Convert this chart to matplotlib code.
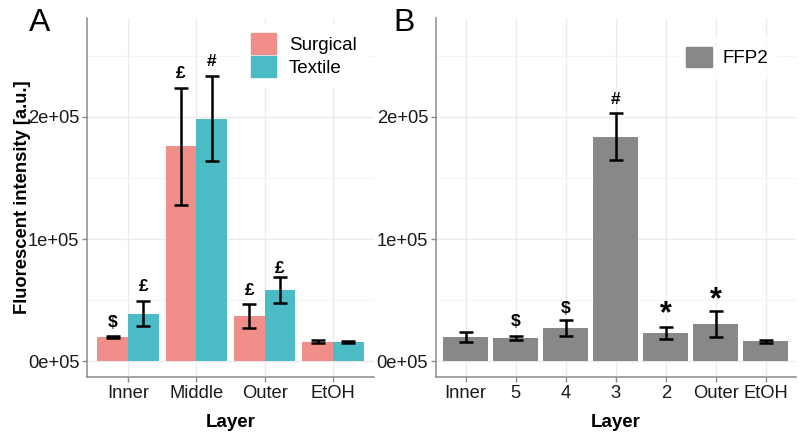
import matplotlib
matplotlib.use("Agg")
import matplotlib.pyplot as plt
import numpy as np
from matplotlib.patches import Patch

plt.rcParams['font.family'] = ['Liberation Sans', 'DejaVu Sans']

# ---- Data panel A ----
layers_a = ["Inner", "Middle", "Outer", "EtOH"]
surgical = [20000, 176000, 37000, 16000]
surgical_err = [800, 48000, 10000, 1500]
textile = [38800, 198600, 58200, 15600]
textile_err = [10200, 35000, 10600, 900]
surg_labels = ["$", "£", "£", ""]
text_labels = ["£", "#", "£", ""]
surg_label_y = [31400, 235200, 58200, 0]
text_label_y = [60900, 245300, 76000, 0]

# ---- Data panel B ----
layers_b = ["Inner", "5", "4", "3", "2", "Outer", "EtOH"]
ffp2 = [19700, 18900, 27000, 183800, 23000, 30300, 16100]
ffp2_err = [4200, 1800, 6300, 19000, 4700, 10700, 1600]
ffp2_labels = ["", "$", "$", "#", "*", "*", ""]
ffp2_label_y = [0, 32500, 43400, 214200, 38500, 50000, 0]

c_surg = "#F08E89"
c_text = "#4BBCC6"
c_ffp2 = "#888888"
axis_col = "#8a8a8a"
grid_major = "#EBEBEB"
grid_minor = "#F4F4F4"

W, H = 799, 432
fig = plt.figure(figsize=(W / 100, H / 100), dpi=100)

def style(ax, n):
    ax.set_xlim(0.4, n + 0.6)
    ax.set_ylim(-13000, 281000)
    ax.set_yticks([0, 100000, 200000])
    ax.set_yticklabels(["0e+05", "1e+05", "2e+05"])
    ax.set_yticks([50000, 150000, 250000], minor=True)
    ax.set_xticks(np.arange(1, n + 1))
    for s in ["top", "right"]:
        ax.spines[s].set_visible(False)
    for s in ["left", "bottom"]:
        ax.spines[s].set_color(axis_col)
        ax.spines[s].set_linewidth(1.1)
    ax.tick_params(axis="both", which="major", colors=axis_col, length=3.5,
                   width=1.0, labelsize=13.2, labelcolor="#1a1a1a", pad=2)
    ax.tick_params(axis="y", which="minor", length=0)
    ax.set_axisbelow(True)
    ax.grid(True, which="major", color=grid_major, linewidth=1.0)
    ax.grid(True, which="minor", axis="y", color=grid_minor, linewidth=0.8)
    ax.set_xlabel("Layer", fontsize=13.5, fontweight="bold", labelpad=9)

ekw = dict(fmt="none", ecolor="black", elinewidth=1.8, capsize=5, capthick=1.8)
ann_size = 12.5
leg_size = 13.5

# Panel A
axA = fig.add_axes([87 / W, (H - 377) / H, (374 - 87) / W, (377 - 18) / H])
style(axA, len(layers_a))
x = np.arange(1, len(layers_a) + 1)
bw = 0.45
axA.bar(x - bw / 2, surgical, width=bw, color=c_surg, label="Surgical")
axA.bar(x + bw / 2, textile, width=bw, color=c_text, label="Textile")
axA.errorbar(x - bw / 2, surgical, yerr=surgical_err, **ekw)
axA.errorbar(x + bw / 2, textile, yerr=textile_err, **ekw)
for xi, lab, yy in zip(x - bw / 2, surg_labels, surg_label_y):
    if lab:
        axA.text(xi, yy, lab, ha="center", va="center", fontsize=ann_size, fontweight="bold")
for xi, lab, yy in zip(x + bw / 2, text_labels, text_label_y):
    if lab:
        axA.text(xi, yy, lab, ha="center", va="center", fontsize=ann_size, fontweight="bold")
axA.set_xticklabels(layers_a)
axA.set_ylabel("Fluorescent intensity [a.u.]", fontsize=13.2, fontweight="bold", labelpad=-2)
padpx = 0.5 * leg_size * 100 / 72
legA = fig.legend(handles=[Patch(color=c_surg, label="Surgical"), Patch(color=c_text, label="Textile")],
                  loc="upper left", bbox_to_anchor=((250.7 - padpx) / W, 1 - (33 - padpx) / H),
                  frameon=True, fontsize=leg_size,
                  handlelength=1.33, handleheight=1.38, handletextpad=0.7, labelspacing=0.08,
                  borderpad=0.5, borderaxespad=0, fancybox=False)
legA.get_frame().set_edgecolor("white")
legA.get_frame().set_facecolor("white")
legA.get_frame().set_alpha(1)

# Panel B
axB = fig.add_axes([435.7 / W, (H - 377) / H, (796 - 435.7) / W, (377 - 18) / H])
style(axB, len(layers_b))
xb = np.arange(1, len(layers_b) + 1)
axB.bar(xb, ffp2, width=0.9, color=c_ffp2)
axB.errorbar(xb, ffp2, yerr=ffp2_err, **ekw)
for xi, lab, yy in zip(xb, ffp2_labels, ffp2_label_y):
    if lab == "*":
        axB.text(xi, yy, lab, ha="center", va="center", fontsize=22, fontweight="bold")
    elif lab:
        axB.text(xi, yy, lab, ha="center", va="center", fontsize=ann_size, fontweight="bold")
axB.set_xticklabels(layers_b)
legB = fig.legend(handles=[Patch(color=c_ffp2, label="FFP2")],
                  loc="upper left", bbox_to_anchor=((685.7 - padpx) / W, 1 - (46.7 - padpx) / H),
                  frameon=True, fontsize=leg_size,
                  handlelength=1.42, handleheight=1.3, handletextpad=0.55,
                  borderpad=0.5, borderaxespad=0, fancybox=False)
legB.get_frame().set_edgecolor("white")
legB.get_frame().set_facecolor("white")

fig.text(29 / W, 1 - 23 / H, "A", fontsize=23, ha="left", va="center")
fig.text(393 / W, 1 - 23 / H, "B", fontsize=23, ha="left", va="center")

fig.savefig("out.png", dpi=100)
